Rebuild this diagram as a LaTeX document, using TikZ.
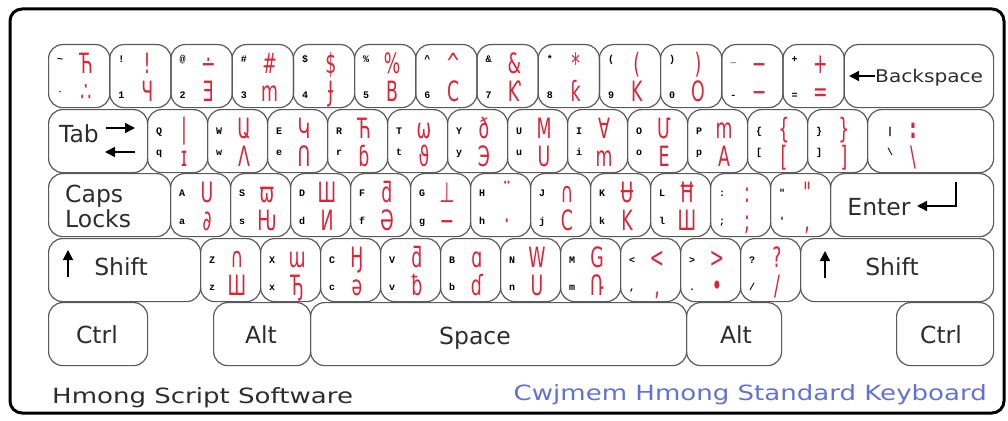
\documentclass[tikz,border=0pt]{standalone}
\usepackage{fontspec}
\setmainfont{DejaVu Sans}
\newfontfamily\keyfont{DejaVu Sans}
\newfontfamily\backfont{DejaVu Sans}[FakeStretch=1.15]
\newfontfamily\footfont{DejaVu Sans}[FakeStretch=1.24]
\newfontfamily\hmfont{DejaVu Sans}[FakeStretch=0.62]
\newfontfamily\capfont{Liberation Mono}
\usepackage{xcolor}
\usetikzlibrary{arrows.meta}
\usetikzlibrary{positioning}
\definecolor{hmred}{RGB}{220,36,56}
\definecolor{keyline}{RGB}{90,90,90}
\definecolor{footblue}{RGB}{98,114,208}
\definecolor{footgray}{RGB}{45,45,45}

\begin{document}
\begin{tikzpicture}[x=1pt, y=-1pt,
  keybox/.style={draw=keyline, line width=1.2pt, rounded corners=14pt, inner sep=0pt,
    minimum height=63pt, anchor=north west},
  keylbl/.style={font=\capfont\fontsize{10}{10}\selectfont\bfseries, inner sep=0pt, anchor=base west},
  hmglyph/.style={font=\hmfont\fontsize{28}{28}\selectfont, text=hmred, inner sep=0pt, anchor=base},
  keyword/.style={font=\keyfont\fontsize{23.5}{23.5}\selectfont, text=footgray, inner sep=0pt, anchor=base},
  kbarrow/.style={-{Triangle[length=10pt,width=10pt]}, line width=1.5pt}
]
\useasboundingbox (0,0) rectangle (1008,420);
\draw[line width=3pt, rounded corners=12pt] (10,9) rectangle (1004,413);

% number row
\foreach \a/\b/\c/\d [count=\i] in {\textasciitilde/\textasciigrave/Ћ/∴, !/1/!/Ч, @/2/∸/Ǝ,
  \#/3/\#/m, \$/4/\$/Ɉ, \%/5/\%/B, \textasciicircum/6/\textasciicircum/C, \&/7/\&/Ƙ,
  */8/*/ƙ, {(}/9/{(}/K, {)}/0/{)}/O, \_/-/−/−, +/=/+/=} {
  \node[keybox, minimum width=61.2pt] (r1k\i) at ({48+61.2*(\i-1)},44) {};
  \node[keylbl] (r1k\i-s) at ([xshift=9pt,yshift=-19pt]r1k\i.north west) {\a};
  \node[keylbl] (r1k\i-n) at ([xshift=9pt,yshift=-54pt]r1k\i.north west) {\b};
  \node[hmglyph] (r1k\i-u) at ([xshift=38pt,yshift=-29pt]r1k\i.north west) {\c};
  \node[hmglyph] (r1k\i-l) at ([xshift=38pt,yshift=-57pt]r1k\i.north west) {\d};
}
\node[keybox, minimum width=149.4pt] (bksp) at (843.6,44) {};
\node[keyword, font=\backfont\fontsize{17.5}{17.5}\selectfont, anchor=base west] (bksp-t) at (875,82) {Backspace};
\coordinate (bksp-a) at (875,76);
\coordinate (bksp-b) at (849,76);
\draw[kbarrow] (bksp-a) -- (bksp-b);

% top letter row
\node[keybox, minimum width=99pt] (tab) at (48,109) {};
\node[keyword] (tab-t) at (79,142) {Tab};
\coordinate (tab-a) at (106,128);
\coordinate (tab-b) at (135,128);
\coordinate (tab-c) at (135,152);
\coordinate (tab-d) at (105,152);
\draw[kbarrow] (tab-a) -- (tab-b);
\draw[kbarrow] (tab-c) -- (tab-d);
\foreach \a/\b/\c/\d [count=\i] in {Q/q/|/ɪ, W/w/Ա/Λ, E/e/Կ/Ո, R/r/Ћ/ɓ, T/t/ω/ϑ,
  Y/y/ð/Э, U/u/M/U, I/i/∀/m, O/o/Մ/E, P/p/m/A, \{/[/\{/[, \}/]/\}/]} {
  \node[keybox, minimum width=60pt] (r2k\i) at ({147+60*(\i-1)},109) {};
  \node[keylbl] (r2k\i-s) at ([xshift=9pt,yshift=-25pt]r2k\i.north west) {\a};
  \node[keylbl] (r2k\i-n) at ([xshift=9pt,yshift=-46pt]r2k\i.north west) {\b};
  \node[hmglyph] (r2k\i-u) at ([xshift=37pt,yshift=-29pt]r2k\i.north west) {\c};
  \node[hmglyph] (r2k\i-l) at ([xshift=37pt,yshift=-57pt]r2k\i.north west) {\d};
}
\node[keybox, minimum width=126pt] (bslash) at (867,109) {};
\node[keylbl] (bslash-s) at ([xshift=20pt,yshift=-25pt]bslash.north west) {|};
\node[keylbl] (bslash-n) at ([xshift=20pt,yshift=-46pt]bslash.north west) {\textbackslash};
\node[hmglyph] (bslash-u) at ([xshift=46pt,yshift=-29pt]bslash.north west) {\textbf{:}};
\node[hmglyph] (bslash-l) at ([xshift=46pt,yshift=-57pt]bslash.north west) {\textbackslash};

% home row
\node[keybox, minimum width=122pt] (caps) at (48,173) {};
\node[keyword, anchor=base west] (caps-t) at (65,202) {Caps};
\node[keyword, anchor=base west] (locks-t) at (65,227) {Locks};
\foreach \a/\b/\c/\d [count=\i] in {A/a/U/∂, S/s/ϖ/Ƕ, D/d/Ш/И, F/f/ƌ/Ә, G/g/⊥/−,
  H/h/¨/·, J/j/∩/C, K/k/Ʉ/K, L/l/Ħ/Ш, :/;/:/;, "/\textquotesingle/"/{,}} {
  \node[keybox, minimum width=60pt] (r3k\i) at ({170+60*(\i-1)},173) {};
  \node[keylbl] (r3k\i-s) at ([xshift=9pt,yshift=-23pt]r3k\i.north west) {\a};
  \node[keylbl] (r3k\i-n) at ([xshift=9pt,yshift=-51pt]r3k\i.north west) {\b};
  \node[hmglyph] (r3k\i-u) at ([xshift=37pt,yshift=-29pt]r3k\i.north west) {\c};
  \node[hmglyph] (r3k\i-l) at ([xshift=37pt,yshift=-57pt]r3k\i.north west) {\d};
}
\node[keybox, minimum width=163pt] (enter) at (830,173) {};
\node[keyword] (enter-t) at (879,215) {Enter};
\coordinate (enter-a) at (956,182);
\coordinate (enter-b) at (917,206);
\draw[kbarrow] (enter-a) |- (enter-b);

% bottom letter row
\node[keybox, minimum width=152pt] (lshift) at (48,238) {};
\node[keyword] (lshift-t) at (121,275) {Shift};
\coordinate (lshift-a) at (68,277);
\coordinate (lshift-b) at (68,250);
\draw[kbarrow] (lshift-a) -- (lshift-b);
\foreach \a/\b/\c/\d [count=\i] in {Z/z/∩/Ш, X/x/ɯ/Ђ, C/c/Ӈ/ə, V/v/ƌ/ƀ, B/b/ɑ/ɗ,
  N/n/W/U, M/m/G/Ռ, </{,}/</{,}, >/./>/•, ?/\slash/?/\slash} {
  \node[keybox, minimum width=60pt] (r4k\i) at ({200+60*(\i-1)},238) {};
  \node[keylbl] (r4k\i-s) at ([xshift=9pt,yshift=-25pt]r4k\i.north west) {\a};
  \node[keylbl] (r4k\i-n) at ([xshift=9pt,yshift=-52pt]r4k\i.north west) {\b};
  \node[hmglyph] (r4k\i-u) at ([xshift=37pt,yshift=-29pt]r4k\i.north west) {\c};
  \node[hmglyph] (r4k\i-l) at ([xshift=37pt,yshift=-57pt]r4k\i.north west) {\d};
}
\node[keybox, minimum width=193pt] (rshift) at (800,238) {};
\node[keyword] (rshift-t) at (892,275) {Shift};
\coordinate (rshift-a) at (825,278);
\coordinate (rshift-b) at (825,251);
\draw[kbarrow] (rshift-a) -- (rshift-b);

% space row
\node[keybox, minimum width=99pt] (lctrl) at (48,302) {};
\node[keyword] (lctrl-t) at (97,343) {Ctrl};
\node[keybox, minimum width=97pt] (lalt) at (213,302) {};
\node[keyword] (lalt-t) at (261,343) {Alt};
\node[keybox, minimum width=376pt] (space) at (310,302) {};
\node[keyword] (space-t) at (475,344) {Space};
\node[keybox, minimum width=95pt] (ralt) at (686,302) {};
\node[keyword] (ralt-t) at (736,343) {Alt};
\node[keybox, minimum width=97pt] (rctrl) at (896,302) {};
\node[keyword] (rctrl-t) at (941,343) {Ctrl};

% footer
\node[font=\footfont\fontsize{21}{21}\selectfont, text=footgray, inner sep=0pt, anchor=base west]
  (soft) at (52,403) {Hmong Script Software};
\node[font=\footfont\fontsize{21}{21}\selectfont, text=footblue, inner sep=0pt, anchor=base east]
  (board) at (987,400) {Cwjmem Hmong Standard Keyboard};
\end{tikzpicture}
\end{document}
